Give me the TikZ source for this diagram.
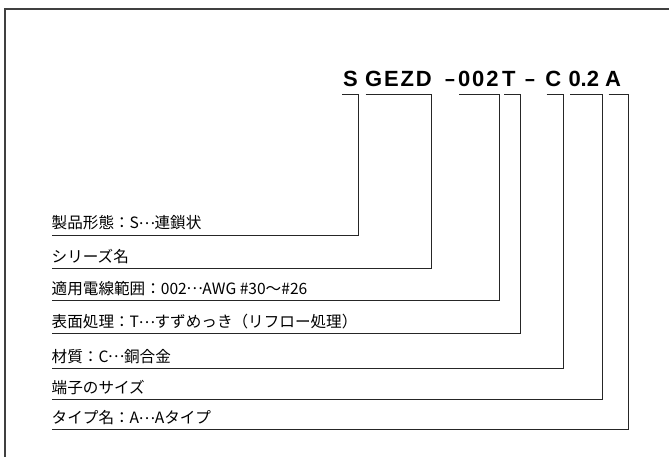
\documentclass[tikz,border=0pt]{standalone}
\usepackage{graphicx}
\usepackage{fontspec}
\newfontfamily\codefont{Liberation Sans}
\newfontfamily\jpfont{Noto Sans CJK JP}
\newcommand\jdots{\makebox[1em][c]{\raisebox{0.3em}{…}}}
\newcommand\tk{\kern1.8pt\relax}
\begin{document}
\begin{tikzpicture}[x=1pt,y=1pt,
  code/.style={inner sep=0pt,anchor=base west,font=\codefont\bfseries\fontsize{22}{22}\selectfont},
  lbl/.style={inner sep=0pt,anchor=base west,font=\jpfont\fontsize{15.6}{18}\selectfont},
  frame/.style={draw=black!75,line width=1.1pt},
  link/.style={draw=black!85,line width=0.8pt}]
\useasboundingbox (0,0) rectangle (669,-457);
% frame (top and left edges; the rest lies outside the picture)
\draw[frame] (5,-470) -- (5,-9) -- (680,-9);
% part number
\node[code] (c1) at (343,-86.7) {S};
\node[code] (c2) at (365,-86.7) {G\tk E\tk Z\tk D};
\node[code] (d1) at (445,-86.7) {\scalebox{0.8}[1]{–}};
\node[code] (c3) at (458,-86.7) {0\tk 0\tk 2};
\node[code] (c4) at (502,-86.7) {T};
\node[code] (d2) at (525,-86.7) {\scalebox{0.8}[1]{–}};
\node[code] (c5) at (545.2,-86.7) {C};
\node[code] (c6) at (568.3,-86.7) {0.2};
\node[code] (c7) at (605,-86.7) {A};
% labels
\node[lbl] (l1) at (51.5,-229) {製品形態：S\jdots 連鎖状};
\node[lbl] (l2) at (51.5,-262.3) {シリーズ名};
\node[lbl] (l3) at (51.5,-294.3) {適用電線範囲：002\jdots AWG \#30〜\#26};
\node[lbl] (l4) at (51.5,-327.7) {表面処理：T\jdots すずめっき（リフロー処理）};
\node[lbl] (l5) at (51.5,-362.3) {材質：C\jdots 銅合金};
\node[lbl] (l6) at (51.5,-393.3) {端子のサイズ};
\node[lbl] (l7) at (51.5,-423.7) {タイプ名：A\jdots Aタイプ};
% bracket end points
\coordinate (a1) at (342,-94);   \coordinate (b1) at (358.5,-94);
\coordinate (a2) at (365.7,-94); \coordinate (b2) at (431.7,-94);
\coordinate (a3) at (459.3,-94); \coordinate (b3) at (499,-94);
\coordinate (a4) at (504,-94);   \coordinate (b4) at (520.3,-94);
\coordinate (a5) at (546.7,-94); \coordinate (b5) at (563.3,-94);
\coordinate (a6) at (570,-94);   \coordinate (b6) at (602.3,-94);
\coordinate (a7) at (608.7,-94); \coordinate (b7) at (628.7,-94);
\coordinate (u1) at (52,-235);
\coordinate (u2) at (52,-268.3);
\coordinate (u3) at (52,-300.3);
\coordinate (u4) at (52,-333.7);
\coordinate (u5) at (52,-368.3);
\coordinate (u6) at (52,-399.3);
\coordinate (u7) at (52,-429.7);
\foreach \i in {1,...,7}{
  \draw[link] (a\i) -- (b\i) |- (u\i);
}
\end{tikzpicture}
\end{document}
